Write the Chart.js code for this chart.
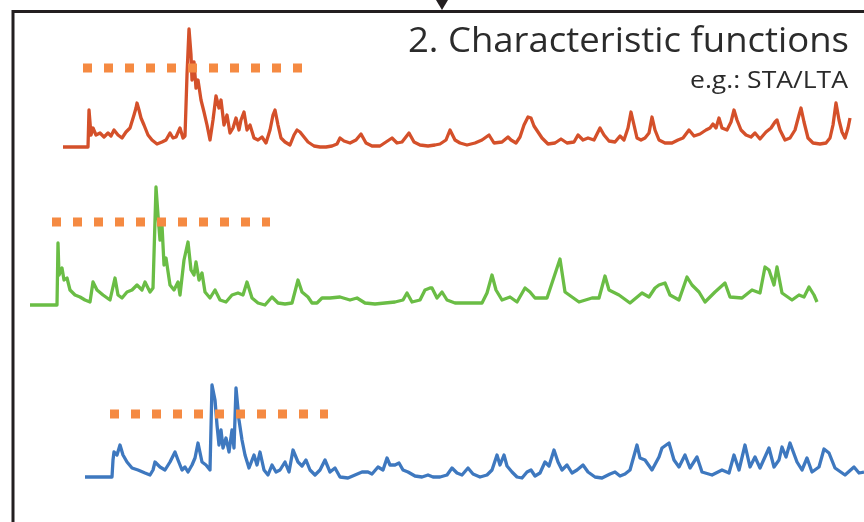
<!DOCTYPE html>
<html>
<head>
<meta charset="utf-8">
<style>
  html, body { margin: 0; padding: 0; background: #fff; }
  #wrap { width: 864px; height: 522px; }
</style>
<script src="https://cdn.jsdelivr.net/npm/chart.js@4.4.1/dist/chart.umd.min.js"></script>
</head>
<body>
<div id="wrap"><canvas id="chart" width="864" height="522"></canvas></div>
<script>
// characteristic function traces (STA/LTA-like)
const redTime = [63, 88, 89, 91, 93, 96, 100, 104, 108, 111, 114, 118, 122, 126, 130, 134, 136, 137, 139, 141, 144, 148, 152, 157, 162, 166, 170, 173, 176, 180, 183, 185, 187, 189, 191, 192, 194, 196, 198, 201, 204, 207, 210, 213, 216, 219, 221, 224, 227, 230, 233, 236, 239, 241, 244, 247, 250, 254, 258, 262, 266, 270, 273, 275, 278, 281, 285, 290, 294, 297, 300, 304, 308, 314, 320, 326, 332, 337, 340, 344, 350, 356, 361, 366, 372, 380, 386, 392, 397, 402, 409, 414, 420, 428, 435, 440, 446, 450, 455, 460, 467, 475, 482, 489, 494, 502, 508, 511, 516, 520, 524, 528, 531, 534, 538, 542, 548, 555, 561, 567, 574, 578, 583, 588, 594, 600, 604, 609, 615, 620, 624, 628, 631, 634, 637, 641, 645, 649, 652, 655, 659, 665, 672, 678, 683, 689, 694, 700, 706, 710, 713, 716, 719, 722, 727, 731, 734, 737, 741, 746, 751, 755, 760, 766, 771, 775, 777, 780, 785, 790, 795, 799, 801, 804, 808, 813, 820, 826, 830, 833, 836, 839, 842, 845, 848, 850];
const redValue = [0, 0, 37, 12, 19, 12, 14, 10, 14, 11, 17, 12, 9, 15, 19, 32, 39, 44, 37, 29, 22, 12, 7, 3, 5, 7, 14, 9, 10, 19, 9, 11, 72, 118, 92, 67, 85, 59, 67, 47, 35, 22, 7, 27, 51, 39, 47, 22, 32, 14, 19, 29, 17, 27, 35, 17, 22, 9, 7, 10, 4, 17, 32, 37, 22, 9, 5, 2, 12, 17, 15, 10, 5, 1, 0, 0, 1, 3, 9, 6, 4, 7, 13, 4, 1, 1, 5, 9, 4, 5, 14, 5, 2, 1, 2, 3, 7, 17, 7, 4, 2, 4, 7, 12, 4, 5, 10, 7, 4, 10, 22, 30, 29, 21, 15, 9, 3, 4, 8, 4, 5, 12, 7, 9, 7, 19, 12, 6, 5, 11, 7, 19, 35, 22, 9, 7, 9, 14, 30, 17, 7, 4, 4, 7, 9, 17, 11, 13, 17, 19, 23, 19, 29, 19, 17, 25, 37, 27, 17, 12, 10, 14, 8, 15, 19, 25, 27, 17, 7, 9, 17, 32, 39, 25, 9, 4, 3, 4, 9, 22, 44, 27, 15, 9, 19, 29];

const greenTime = [30, 57, 58, 59, 62, 64, 67, 70, 75, 80, 85, 90, 93, 97, 103, 110, 115, 118, 122, 127, 132, 137, 142, 145, 150, 153, 156, 158, 160, 162, 164, 166, 170, 174, 178, 180, 184, 188, 191, 194, 196, 199, 202, 205, 210, 215, 220, 226, 232, 238, 243, 247, 252, 258, 265, 272, 278, 285, 292, 298, 302, 308, 312, 317, 322, 330, 340, 350, 357, 365, 375, 385, 395, 403, 407, 412, 420, 425, 430, 432, 437, 442, 447, 455, 469, 482, 487, 492, 496, 502, 510, 517, 525, 530, 535, 547, 554, 560, 565, 572, 579, 592, 599, 605, 609, 619, 630, 642, 649, 655, 659, 665, 670, 679, 687, 692, 699, 705, 715, 725, 730, 742, 752, 760, 765, 769, 774, 777, 782, 792, 799, 804, 809, 814, 817];
const greenValue = [0, 0, 62, 30, 37, 25, 27, 15, 10, 8, 5, 3, 23, 15, 10, 5, 27, 10, 7, 13, 15, 20, 15, 23, 13, 17, 118, 90, 65, 80, 40, 47, 20, 15, 23, 10, 45, 63, 35, 30, 43, 25, 32, 13, 7, 15, 5, 3, 10, 12, 10, 23, 7, 2, 0, 8, 2, 1, 2, 25, 13, 8, 2, 2, 7, 7, 8, 5, 7, 2, 1, 2, 3, 5, 12, 3, 5, 15, 17, 17, 7, 13, 5, 2, 2, 2, 12, 30, 15, 5, 8, 3, 17, 13, 7, 7, 28, 46, 13, 8, 3, 7, 7, 29, 15, 10, 2, 12, 8, 17, 20, 22, 10, 5, 28, 20, 13, 3, 13, 22, 8, 7, 15, 12, 38, 35, 20, 38, 12, 5, 10, 8, 18, 10, 3];

const blueTime = [85, 112, 113, 114, 117, 120, 123, 127, 132, 138, 145, 150, 153, 155, 160, 165, 170, 175, 178, 182, 185, 188, 192, 195, 198, 202, 206, 210, 212, 215, 217, 219, 221, 223, 226, 229, 232, 234, 236, 239, 242, 245, 249, 254, 257, 260, 264, 268, 272, 276, 280, 285, 289, 293, 298, 302, 306, 310, 315, 320, 325, 330, 335, 340, 348, 355, 362, 368, 372, 378, 383, 387, 390, 395, 399, 403, 408, 415, 422, 428, 433, 440, 447, 452, 457, 462, 468, 473, 480, 487, 492, 497, 500, 504, 507, 512, 517, 522, 527, 531, 535, 540, 545, 549, 554, 558, 562, 567, 572, 577, 583, 588, 595, 602, 610, 615, 620, 625, 630, 637, 640, 645, 652, 659, 662, 669, 674, 679, 685, 690, 697, 702, 712, 722, 729, 734, 739, 745, 750, 755, 760, 769, 774, 779, 782, 786, 790, 797, 802, 807, 812, 819, 824, 829, 835, 845, 854, 859, 864];
const blueValue = [0, 0, 17, 25, 22, 32, 22, 15, 9, 7, 4, 2, 7, 15, 10, 7, 15, 25, 17, 7, 10, 5, 12, 19, 34, 15, 12, 7, 92, 77, 52, 32, 47, 29, 39, 25, 47, 29, 89, 57, 37, 22, 9, 22, 12, 25, 7, 2, 12, 5, 7, 15, 5, 27, 15, 11, 17, 7, 2, 7, 17, 5, 9, 0, -1, 2, 5, 5, 3, 10, 7, 19, 12, 12, 14, 7, 5, 1, 0, 2, 0, 0, 2, 9, 4, 2, 9, 3, 0, 2, 7, 22, 12, 22, 11, 5, 0, -1, 5, 7, 1, 4, 15, 11, 27, 15, 7, 12, 4, 7, 12, 5, 0, -1, 3, 5, 1, 3, 7, 32, 19, 17, 7, 20, 29, 34, 17, 10, 22, 9, 20, 5, 2, 7, 4, 22, 7, 32, 10, 20, 9, 29, 10, 17, 30, 20, 34, 15, 7, 19, 5, 10, 28, 24, 9, 2, 10, 4, 5];

// trigger thresholds (start time, end time, level)
const redThreshold = [83, 302, 79];
const greenThreshold = [52, 270, 83];
const blueThreshold = [110, 328, 63];

const titleText = "2. Characteristic functions";
const subtitleText = "e.g.: STA/LTA";

const RED = "#d4502a";
const GREEN = "#6abd45";
const BLUE = "#3e78bf";
const DASH = "#f58a42";

function points(t, v) {
  return t.map((x, i) => ({ x: x, y: v[i] }));
}

function traceSet(t, v, color, axis) {
  return {
    data: points(t, v),
    yAxisID: axis,
    borderColor: color,
    borderWidth: 3.3,
    pointRadius: 0,
    tension: 0,
    order: 1,
    borderJoinStyle: "round",
  };
}

function thresholdSet(th, axis) {
  return {
    data: [{ x: th[0], y: th[2] }, { x: th[1], y: th[2] }],
    yAxisID: axis,
    borderColor: DASH,
    borderWidth: 9,
    borderDash: [9, 12],
    borderCapStyle: "butt",
    pointRadius: 0,
    order: 0,
  };
}

// frame, arrow and labels of the panel
const panelPlugin = {
  id: "panel",
  beforeDraw(chart) {
    const ctx = chart.ctx;
    ctx.save();
    ctx.fillStyle = "#fff";
    ctx.fillRect(0, 0, chart.width, chart.height);
    ctx.strokeStyle = "#231f20";
    ctx.lineWidth = 3;
    ctx.beginPath();
    ctx.moveTo(13, chart.height);
    ctx.lineTo(13, 11.5);
    ctx.lineTo(chart.width, 11.5);
    ctx.stroke();
    ctx.fillStyle = "#231f20";
    ctx.beginPath();
    ctx.moveTo(436, 0);
    ctx.lineTo(448, 0);
    ctx.lineTo(442, 10);
    ctx.closePath();
    ctx.fill();
    ctx.restore();
  },
  afterDraw(chart) {
    const ctx = chart.ctx;
    ctx.save();
    ctx.fillStyle = "#2b2b2b";
    ctx.textBaseline = "alphabetic";
    ctx.textAlign = "left";
    drawFitted(ctx, titleText, "35px 'Open Sans'", 849, 52, 441);
    drawFitted(ctx, subtitleText, "24px 'Open Sans'", 848, 88, 158);
    ctx.restore();
  },
};

function drawFitted(ctx, text, font, right, baseline, width) {
  ctx.font = font;
  const w = ctx.measureText(text).width;
  const sx = width / w;
  ctx.save();
  ctx.translate(right - width, baseline);
  ctx.scale(sx, 1);
  ctx.fillText(text, 0, 0);
  ctx.restore();
}

const H = 522;
new Chart(document.getElementById("chart"), {
  type: "line",
  data: {
    datasets: [
      thresholdSet(redThreshold, "yRed"),
      thresholdSet(greenThreshold, "yGreen"),
      thresholdSet(blueThreshold, "yBlue"),
      traceSet(redTime, redValue, RED, "yRed"),
      traceSet(greenTime, greenValue, GREEN, "yGreen"),
      traceSet(blueTime, blueValue, BLUE, "yBlue"),
    ],
  },
  options: {
    responsive: false,
    animation: false,
    events: [],
    layout: { padding: 0 },
    plugins: { legend: { display: false }, tooltip: { enabled: false } },
    scales: {
      x: { type: "linear", min: 0, max: 864, display: false },
      // each trace sits on its own offset amplitude axis
      yRed: { type: "linear", min: 147 - H, max: 147, display: false },
      yGreen: { type: "linear", min: 305 - H, max: 305, display: false },
      yBlue: { type: "linear", min: 477 - H, max: 477, display: false },
    },
  },
  plugins: [panelPlugin],
});
</script>
</body>
</html>
